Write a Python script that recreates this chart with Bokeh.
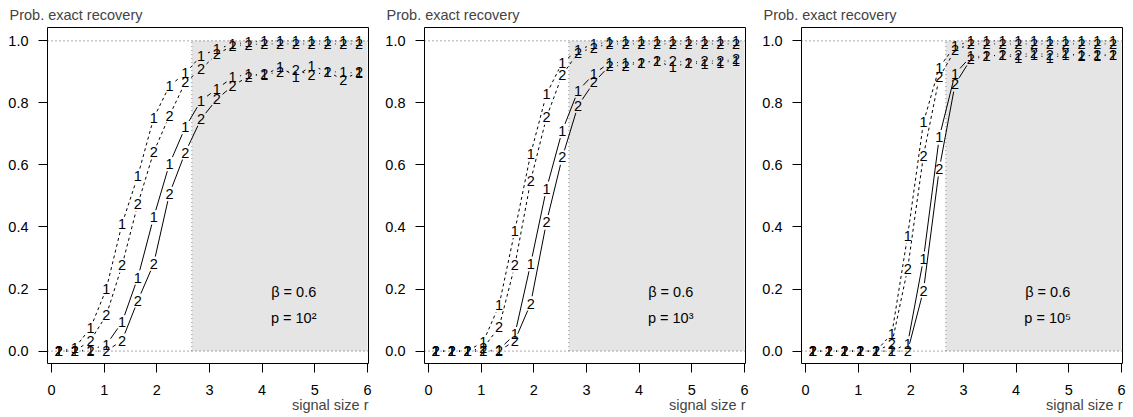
import math
from bokeh.plotting import figure
from bokeh.layouts import row
from bokeh.models import FixedTicker, NumeralTickFormatter, Title, Span
from bokeh.embed import file_html
from bokeh.resources import INLINE
from bokeh.core.properties import value

# ---------------- data ----------------
r_values = [0.14, 0.44, 0.74, 1.04, 1.34, 1.64, 1.94, 2.24, 2.54, 2.84,
            3.14, 3.44, 3.74, 4.04, 4.34, 4.64, 4.94, 5.24, 5.54, 5.84]

# p = 10^2
p2_dashed_1 = [0.0, 0.01, 0.074, 0.20, 0.41, 0.565, 0.751, 0.855, 0.895, 0.952,
               0.973, 0.99, 0.995, 1.0, 1.0, 1.0, 1.0, 1.0, 1.0, 1.0]
p2_dashed_2 = [0.0, 0.0, 0.034, 0.115, 0.276, 0.474, 0.641, 0.759, 0.866, 0.909,
               0.957, 0.984, 0.988, 0.99, 0.99, 0.99, 0.99, 0.99, 0.99, 0.99]
p2_solid_1 = [0.0, 0.0, 0.005, 0.02, 0.093, 0.237, 0.431, 0.603, 0.721, 0.807,
              0.845, 0.882, 0.893, 0.89, 0.915, 0.885, 0.92, 0.90, 0.90, 0.895]
p2_solid_2 = [0.0, 0.0, 0.0, 0.0, 0.034, 0.163, 0.281, 0.507, 0.64, 0.748,
              0.812, 0.855, 0.885, 0.893, 0.898, 0.905, 0.89, 0.90, 0.875, 0.90]

# p = 10^3
p3_dashed_1 = [0.0, 0.0, 0.0, 0.03, 0.147, 0.388, 0.635, 0.828, 0.93, 0.97,
               0.99, 0.995, 1.0, 1.0, 1.0, 1.0, 1.0, 1.0, 1.0, 1.0]
p3_dashed_2 = [0.0, 0.0, 0.0, 0.01, 0.077, 0.276, 0.549, 0.753, 0.89, 0.962,
               0.978, 0.99, 0.99, 0.99, 0.99, 0.99, 0.99, 0.99, 0.99, 0.99]
p3_solid_1 = [0.0, 0.0, 0.0, 0.0, 0.005, 0.054, 0.281, 0.523, 0.71, 0.839,
              0.893, 0.93, 0.93, 0.93, 0.935, 0.915, 0.93, 0.925, 0.93, 0.935]
p3_solid_2 = [0.0, 0.0, 0.0, 0.0, 0.0, 0.034, 0.153, 0.415, 0.624, 0.791,
              0.866, 0.92, 0.92, 0.93, 0.935, 0.935, 0.93, 0.935, 0.935, 0.94]

# p = 10^5
p5_dashed_1 = [0.0, 0.0, 0.0, 0.0, 0.0, 0.056, 0.372, 0.737, 0.914, 0.984,
               0.998, 1.0, 1.0, 1.0, 1.0, 1.0, 1.0, 1.0, 1.0, 1.0]
p5_dashed_2 = [0.0, 0.0, 0.0, 0.0, 0.0, 0.024, 0.265, 0.63, 0.882, 0.97,
               0.99, 0.99, 0.99, 0.99, 0.99, 0.99, 0.99, 0.99, 0.99, 0.99]
p5_solid_1 = [0.0, 0.0, 0.0, 0.0, 0.0, 0.0, 0.024, 0.297, 0.689, 0.893,
              0.95, 0.95, 0.955, 0.945, 0.955, 0.945, 0.955, 0.955, 0.95, 0.955]
p5_solid_2 = [0.0, 0.0, 0.0, 0.0, 0.0, 0.0, 0.0, 0.195, 0.587, 0.86,
              0.941, 0.95, 0.955, 0.955, 0.96, 0.955, 0.96, 0.95, 0.955, 0.955]

panel_p_labels = ["p = 10\u00b2", "p = 10\u00b3", "p = 10\u2075"]
beta_label = "\u03b2 = 0.6"
x_ticks = [0, 1, 2, 3, 4, 5, 6]
y_ticks = [0.0, 0.2, 0.4, 0.6, 0.8, 1.0]
recovery_boundary = 2.665   # (1 + sqrt(1 - beta))^2
region_right = 6.0
prob_low, prob_high = 0.0, 1.0
annot_x = 4.6
annot_y_beta = 0.19
annot_y_p = 0.107

panels = [
    (p2_dashed_1, p2_dashed_2, p2_solid_1, p2_solid_2),
    (p3_dashed_1, p3_dashed_2, p3_solid_1, p3_solid_2),
    (p5_dashed_1, p5_dashed_2, p5_solid_1, p5_solid_2),
]

# ---------------- layout ----------------
X0, X1 = -0.076, 6.02
Y0, Y1 = -0.04, 1.043
FW, FH = 321, 336
FONT = "Liberation Sans"
FS = "14.5px"
GAP = 7.5
sx = FW / (X1 - X0)
sy = FH / (Y1 - Y0)


def gapped(xs, ys):
    a, b, c, d = [], [], [], []
    for i in range(len(xs) - 1):
        dx = xs[i + 1] - xs[i]
        dy = ys[i + 1] - ys[i]
        L = math.hypot(dx * sx, dy * sy)
        if L == 0:
            continue
        f = GAP / L
        if f < 0.5:
            a.append(xs[i] + f * dx)
            b.append(ys[i] + f * dy)
            c.append(xs[i + 1] - f * dx)
            d.append(ys[i + 1] - f * dy)
    return a, b, c, d


figs = []
borders_right = [9, 9, 11]
for k, (d1, d2, s1, s2) in enumerate(panels):
    p = figure(frame_width=FW, frame_height=FH, x_range=(X0, X1), y_range=(Y0, Y1),
               output_backend="svg", toolbar_location=None,
               min_border_left=47, min_border_right=borders_right[k],
               min_border_top=26, min_border_bottom=50,
               title="Prob. exact recovery")
    p.title.align = "left"
    p.title.offset = -38
    p.title.text_font = FONT
    p.title.text_font_size = FS
    p.title.text_font_style = "normal"
    p.title.standoff = 9
    p.grid.visible = False
    p.outline_line_color = "black"
    p.outline_line_width = 1
    p.background_fill_color = "white"
    p.border_fill_color = "white"

    p.xaxis.ticker = FixedTicker(ticks=x_ticks)
    p.yaxis.ticker = FixedTicker(ticks=y_ticks)
    p.yaxis.formatter = NumeralTickFormatter(format="0.0")
    p.axis.axis_line_color = None
    p.axis.major_tick_out = 9
    p.axis.major_tick_in = 0
    p.axis.minor_tick_out = 0
    p.axis.minor_tick_in = 0
    p.axis.major_tick_line_color = "black"
    p.axis.major_label_text_font = FONT
    p.axis.major_label_text_font_size = FS
    p.axis.major_label_text_color = "black"
    p.xaxis.major_label_standoff = 12
    p.yaxis.major_label_standoff = 10

    xl = Title(text="signal size r", align="right", text_font=FONT, text_font_size=FS,
               text_font_style="normal", standoff=-5)
    p.add_layout(xl, "below")

    # shaded exact-recovery region
    p.quad(left=[recovery_boundary], right=[region_right], bottom=[prob_low], top=[prob_high],
           fill_color="#e5e5e5", line_color=None)
    p.segment(x0=[recovery_boundary], y0=[prob_low], x1=[recovery_boundary], y1=[prob_high],
              line_color="#888888", line_dash="1 3", line_width=1)
    for yy in (prob_low, prob_high):
        p.add_layout(Span(location=yy, dimension="width", line_color="#555555",
                          line_dash="1 3", line_width=1))

    for ys, dash in ((d1, "3 3"), (d2, "3 3"), (s1, "solid"), (s2, "solid")):
        a, b, c, d = gapped(r_values, ys)
        p.segment(x0=a, y0=b, x1=c, y1=d, line_color="black", line_width=1, line_dash=dash)

    for ys, lab in ((d2, "2"), (s2, "2"), (d1, "1"), (s1, "1")):
        p.text(x=r_values, y=ys, text=[lab] * len(r_values), text_align="center",
               text_baseline="middle", text_font=value(FONT), text_font_size=FS,
               text_color="black")

    p.text(x=[annot_x], y=[annot_y_beta], text=[beta_label], text_align="center",
           text_baseline="middle", text_font=value(FONT), text_font_size=FS, text_color="black")
    p.text(x=[annot_x], y=[annot_y_p], text=[panel_p_labels[k]], text_align="center",
           text_baseline="middle", text_font=value(FONT), text_font_size=FS, text_color="black")
    figs.append(p)

layout = row(*figs, spacing=0)
open("out.html", "w").write(file_html(layout, INLINE))
